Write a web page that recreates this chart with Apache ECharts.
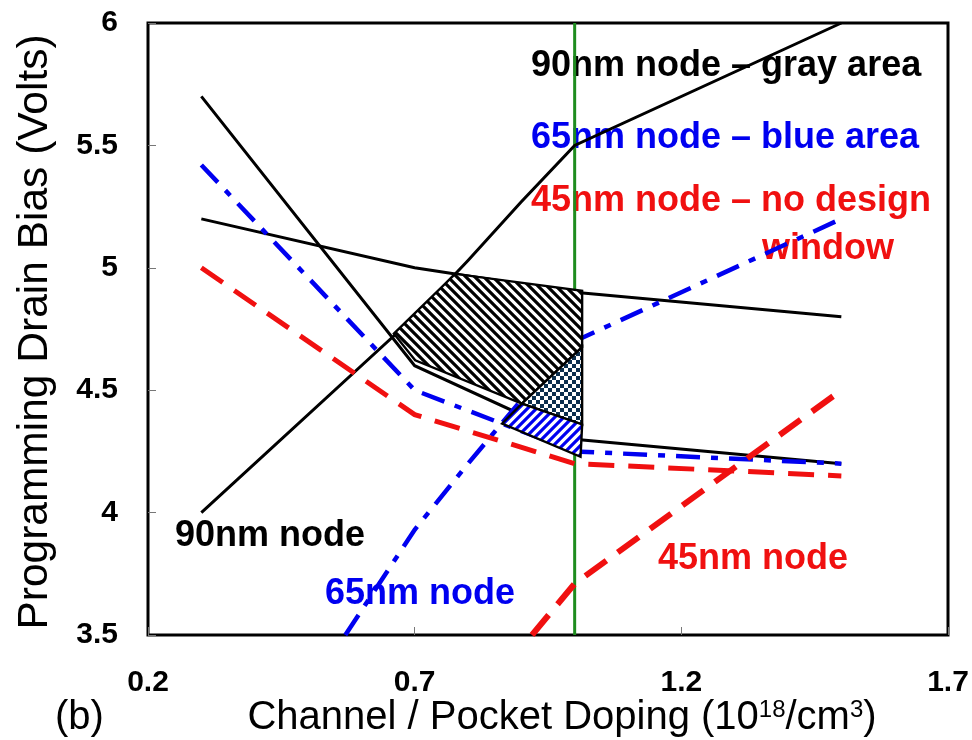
<!DOCTYPE html>
<html><head><meta charset="utf-8">
<script src="https://cdn.jsdelivr.net/npm/echarts@6.0.0/dist/echarts.min.js"></script>
<style>html,body{margin:0;padding:0;background:#fff}#c{width:972px;height:740px}</style>
</head><body><div id="c"></div>
<script>
// ---- data ----
const xTicks = [0.2, 0.7, 1.2, 1.7];
const yTicks = [3.5, 4, 4.5, 5, 5.5, 6];

const black90Low   = [[0.3,5.7],[0.7,4.6],[1.0,4.3],[1.5,4.2]];
const black90Upper = [[0.3,5.2],[0.7,5.0],[1.0,4.9],[1.5,4.8]];
const black90Rise  = [[0.3,4.0],[0.7,4.8],[0.8,5.03],[0.9,5.27],[1.0,5.5],[1.5,6.0]];
const blue65Low    = [[0.3,5.42],[0.7,4.5],[1.0,4.25],[1.5,4.2]];
const blue65Rise   = [[0.57,3.5],[0.7,3.93],[0.8,4.2],[0.9,4.46],[1.0,4.7],[1.5,5.2]];
const red45Low     = [[0.3,5.0],[0.7,4.4],[1.0,4.2],[1.5,4.15]];
const red45Rise    = [[0.92,3.5],[1.0,3.71],[1.5,4.5]];
const greenLine    = [[1.0,3.5],[1.0,6.0]];

const grayArea    = [[0.661,4.731],[0.776,4.975],[1.014,4.906],[1.014,4.676],[0.901,4.445],[0.701,4.622]];
const checkerArea = [[0.901,4.445],[1.014,4.676],[1.014,4.36]];
const blueArea    = [[0.901,4.445],[1.014,4.36],[1.011,4.228],[0.864,4.364]];

// ---- patterns ----
function stripe(color, dir, s, w){
  const c = document.createElement('canvas'); c.width = s; c.height = s;
  const g = c.getContext('2d');
  g.fillStyle = '#fff'; g.fillRect(0,0,s,s);
  g.strokeStyle = color; g.lineWidth = w; g.lineCap = 'square';
  g.beginPath();
  if (dir === '\\') {
    g.moveTo(-1,-1); g.lineTo(s+1,s+1);
    g.moveTo(s-3,-3); g.lineTo(s+3,3);
    g.moveTo(-3,s-3); g.lineTo(3,s+3);
  } else {
    g.moveTo(-1,s+1); g.lineTo(s+1,-1);
    g.moveTo(-3,3); g.lineTo(3,-3);
    g.moveTo(s-3,s+3); g.lineTo(s+3,s-3);
  }
  g.stroke();
  return {image: c, repeat: 'repeat'};
}
function checker(color, q){
  const c = document.createElement('canvas'); c.width = 2*q; c.height = 2*q;
  const g = c.getContext('2d');
  g.fillStyle = '#fff'; g.fillRect(0,0,2*q,2*q);
  g.fillStyle = color; g.fillRect(0,0,q,q); g.fillRect(q,q,q,q);
  return {image: c, repeat: 'repeat'};
}

function lineSeries(data, color, width, type){
  return {type:'line', data, symbol:'none', silent:true, animation:false, z:3,
    lineStyle:{color, width, type, cap:'butt', join:'miter'}};
}
function polySeries(verts, fill){
  return {type:'custom', data: verts, silent:true, animation:false, z:6, clip:false,
    renderItem:(params, api)=>{
      if (params.dataIndex !== 0) return null;
      const pts = verts.map(v => api.coord(v));
      return {type:'polygon', shape:{points:pts}, style:{fill, stroke:'#000', lineWidth:2.4}};
    }};
}

const FONT = '"Liberation Sans", Arial, sans-serif';
function txt(x, y, text, color, size, bold){
  return {type:'text', x, y, z:1, style:{text, fill:color, font:(bold?'bold ':'')+size+'px '+FONT, align:'left', verticalAlign:'middle'}};
}

const chart = echarts.init(document.getElementById('c'), null, {renderer:'canvas'});
chart.setOption({
  animation:false,
  backgroundColor:'#fff',
  grid:{left:148, top:23, right:24, bottom:105, show:true, borderColor:'#000', borderWidth:3, backgroundColor:'transparent'},
  xAxis:{type:'value', min:0.2, max:1.7,
    axisLine:{show:false}, splitLine:{show:false},
    axisTick:{show:true, inside:true, length:8, lineStyle:{color:'#777', width:1}, customValues:xTicks},
    axisLabel:{customValues:xTicks, margin:33, color:'#000', fontSize:30, fontWeight:'bold', fontFamily:'Liberation Sans',
      formatter:v=>String(v)}},
  yAxis:{type:'value', min:3.5, max:6,
    axisLine:{show:false}, splitLine:{show:false},
    axisTick:{show:true, inside:true, length:8, lineStyle:{color:'#777', width:1}, customValues:yTicks},
    axisLabel:{customValues:yTicks, margin:30, color:'#000', fontSize:30, fontWeight:'bold', fontFamily:'Liberation Sans',
      formatter:v=>String(v)}},
  graphic:[
    txt(531, 66, '90nm node \u2013 gray area', '#000', 36, true),
    txt(531, 138, '65nm node \u2013 blue area', '#0000f0', 36, true),
    txt(531, 201, '45nm node \u2013 no design', '#f01010', 36, true),
    txt(762, 249, 'window', '#f01010', 36, true),
    txt(175, 536, '90nm node', '#000', 36, true),
    txt(325, 594, '65nm node', '#0000f0', 36, true),
    txt(658, 559, '45nm node', '#f01010', 36, true),
    {type:'text', x:35, y:332, rotation:Math.PI/2, z:1,
      style:{text:'Programming Drain Bias (Volts)', fill:'#000', font:'42.5px '+FONT, align:'center', verticalAlign:'middle'}},
    {type:'text', x:562, y:718, z:1,
      style:{text:'Channel / Pocket Doping (10{s|18}/cm{s|3})', fill:'#000', font:'40px '+FONT, align:'center', verticalAlign:'middle',
        rich:{s:{fontSize:24, fontFamily:'Liberation Sans', fill:'#000', verticalAlign:'top', lineHeight:18}}}},
    {type:'text', x:55, y:718, z:1,
      style:{text:'(b)', fill:'#000', font:'40px '+FONT, align:'left', verticalAlign:'middle'}}
  ],
  series:[
    lineSeries(greenLine, '#1e8c1e', 3, 'solid'),
    lineSeries(black90Low, '#000', 3, 'solid'),
    lineSeries(black90Upper, '#000', 3, 'solid'),
    lineSeries(black90Rise, '#000', 3, 'solid'),
    lineSeries(blue65Low, '#0000f0', 4.5, [24,11,7,11]),
    lineSeries(blue65Rise, '#0000f0', 4.5, [24,11,7,11]),
    lineSeries(red45Low, '#f01010', 5, [26,14]),
    lineSeries(red45Rise, '#f01010', 6, [26,14]),
    polySeries(grayArea, stripe('#000','\\',9,3.2)),
    polySeries(checkerArea, checker('#0b2e4e',4)),
    polySeries(blueArea, stripe('#0000f0','/',9,3.2))
  ]
});
</script>
</body></html>
